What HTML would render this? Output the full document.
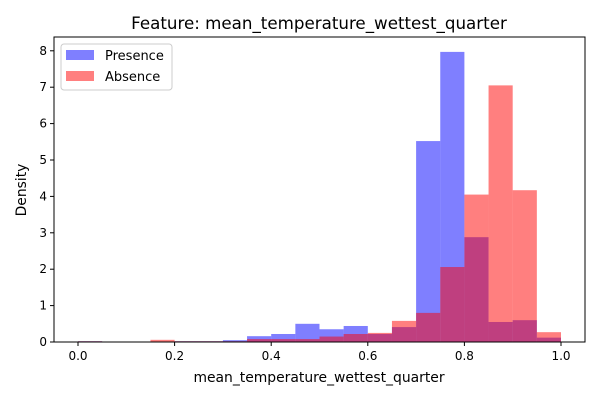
<!DOCTYPE html>
<html><head><meta charset="utf-8"><style>
body{margin:0;background:#fff;font-family:"Liberation Sans","DejaVu Sans",sans-serif;}
</style></head><body>
<svg id="c" width="600" height="400" xmlns="http://www.w3.org/2000/svg" font-family="DejaVu Sans, Liberation Sans, sans-serif"></svg>
<script>
const binEdges=[0,0.05,0.1,0.15,0.2,0.25,0.3,0.35,0.4,0.45,0.5,0.55,0.6,0.65,0.7,0.75,0.8,0.85,0.9,0.95,1.0];
const presence=[0.02,0.01,0.01,0.01,0.02,0.02,0.05,0.16,0.22,0.5,0.35,0.44,0.22,0.41,5.52,7.97,2.88,0.55,0.6,0.12];
const absence=[0.02,0.01,0.01,0.06,0.02,0.02,0.02,0.08,0.08,0.08,0.15,0.22,0.25,0.58,0.8,2.06,4.05,7.05,4.17,0.27];
const xTicks=[0,0.2,0.4,0.6,0.8,1.0];
const xTickLabels=["0.0","0.2","0.4","0.6","0.8","1.0"];
const yTicks=[0,1,2,3,4,5,6,7,8];
const svg=document.getElementById('c');const NS='http://www.w3.org/2000/svg';
const L=54,R=585,T=37,B=342;
const x=v=>78+v*483;
const y=v=>B-v*36.4;
function mk(t,a,p){const e=document.createElementNS(NS,t);for(const k in a)e.setAttribute(k,a[k]);(p||svg).appendChild(e);return e;}
function series(vals,color,name){const g=mk('g',{});


vals.forEach((v,i)=>{const x0=x(binEdges[i]),x1=x(binEdges[i+1]);
const r=mk('rect',{x:x0,y:y(v),width:x1-x0,height:B-y(v),fill:color,'fill-opacity':0.5},g);

});}
series(presence,'#0000ff','presence');
series(absence,'#ff0000','absence');
const fr=mk('rect',{x:L,y:T,width:R-L,height:B-T,fill:'none',stroke:'#000','stroke-width':1});


xTicks.forEach((v,i)=>{mk('line',{x1:x(v),x2:x(v),y1:B,y2:B+4,stroke:'#000'});
const t=mk('text',{x:x(v),y:B+18,'font-size':12,'text-anchor':'middle'});t.textContent=xTickLabels[i];

});
yTicks.forEach(v=>{mk('line',{x1:L-4,x2:L,y1:y(v),y2:y(v),stroke:'#000'});
const t=mk('text',{x:L-7,y:y(v)+4,'font-size':12,'text-anchor':'end'});t.textContent=v;

});
let t=mk('text',{x:319,y:29,'font-size':16.7,'text-anchor':'middle'});t.textContent='Feature: mean_temperature_wettest_quarter';


t=mk('text',{x:319,y:382,'font-size':13.9,'text-anchor':'middle'});t.textContent='mean_temperature_wettest_quarter';


t=mk('text',{x:26,y:190,'font-size':13.9,'text-anchor':'middle',transform:'rotate(-90 26 190)'});t.textContent='Density';


const lg=mk('g',{});


mk('rect',{x:61,y:44,width:111,height:46,rx:3,fill:'#fff','fill-opacity':0.8,stroke:'#ccc'},lg);
[['Presence','#0000ff',50],['Absence','#ff0000',71]].forEach(([n,c,yy])=>{
mk('rect',{x:66,y:yy,width:28,height:10,fill:c,'fill-opacity':0.5},lg);
const tt=mk('text',{x:105,y:yy+10,'font-size':13},lg);tt.textContent=n;

});
</script>
</body></html>
